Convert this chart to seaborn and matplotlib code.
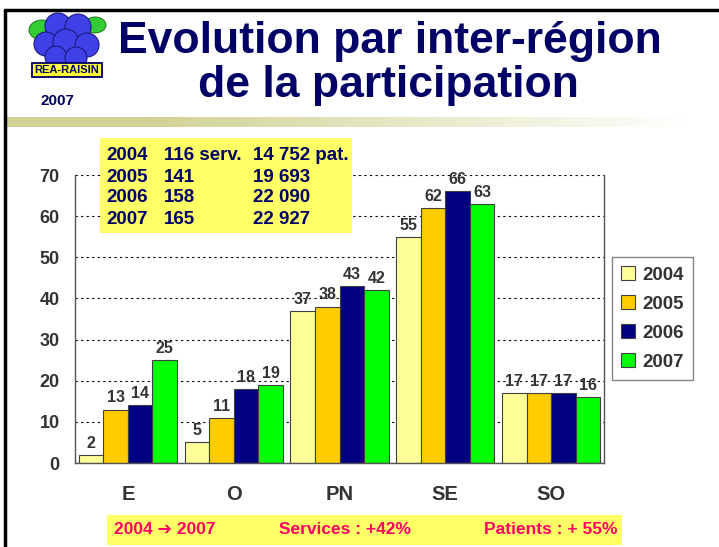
import numpy as np
import pandas as pd
import seaborn as sns
import matplotlib.pyplot as plt
from matplotlib.patches import Rectangle, Ellipse

# Données du graphique
regions = ['E', 'O', 'PN', 'SE', 'SO']
annees = ['2004', '2005', '2006', '2007']
v2004 = [2, 5, 37, 55, 17]
v2005 = [13, 11, 38, 62, 17]
v2006 = [14, 18, 43, 66, 17]
v2007 = [25, 19, 42, 63, 16]
couleurs = ['#ffff99', '#ffcc00', '#000080', '#00ff00']

# Encadré récapitulatif
recap_annees = ['2004', '2005', '2006', '2007']
recap_services = ['116 serv.', '141', '158', '165']
recap_patients = ['14 752 pat.', '19 693', '22 090', '22 927']

df = pd.DataFrame({
    'region': regions * 4,
    'annee': [a for a in annees for _ in regions],
    'valeur': v2004 + v2005 + v2006 + v2007,
})

sns.set_style('white')
plt.rcParams['font.family'] = ['Liberation Sans', 'DejaVu Sans']

W, H = 719, 547
fig = plt.figure(figsize=(W / 100, H / 100), dpi=100)


def fx(x):
    return x / W


def fy(y):
    return 1 - y / H


gris = '#333333'
navy = '#000066'

# Zone du graphique
ax = fig.add_axes([fx(75), fy(463), fx(604) - fx(75), fy(175) - fy(463)])
sns.barplot(data=df, x='region', y='valeur', hue='annee', palette=couleurs,
            width=0.93, saturation=1, edgecolor='#404040', linewidth=0.8,
            ax=ax)

for c in ax.containers:
    ax.bar_label(c, fmt='%d', padding=3, fontsize=11.5, fontweight='bold',
                 color=gris)

ax.set_ylim(0, 70)
ax.set_xlim(-0.5, 4.5)
ax.set_yticks(range(0, 71, 10))
ax.yaxis.grid(True, linestyle=(0, (2, 3)), color='black', linewidth=0.8)
ax.set_axisbelow(True)
ax.set_xlabel('')
ax.set_ylabel('')
ax.set_xticks(range(5))
ax.set_xticklabels(regions, fontsize=14.5, fontweight='bold', color=gris)
ax.set_xticks(np.arange(-0.5, 5, 1), minor=True)
ax.tick_params(axis='x', which='major', length=0, pad=16)
ax.tick_params(axis='x', which='minor', length=6, color='#555555', direction='out')
ax.tick_params(axis='y', length=7, color='#555555', direction='out', pad=4,
               labelsize=13, labelcolor=gris)
for lab in ax.get_yticklabels():
    lab.set_fontweight('bold')
for s in ['left', 'bottom', 'right']:
    ax.spines[s].set_color('#555555')
    ax.spines[s].set_linewidth(1.0)
ax.spines['top'].set_visible(False)

leg = ax.legend(loc='upper left', bbox_to_anchor=(fx(612), fy(257)),
                bbox_transform=fig.transFigure, frameon=True, fancybox=False,
                edgecolor='#666666', handlelength=0.75, handleheight=0.75,
                handletextpad=0.35, labelspacing=0.62, borderpad=0.5,
                borderaxespad=0, prop={'weight': 'bold', 'size': 13.5})
for t in leg.get_texts():
    t.set_color(gris)
leg.get_frame().set_linewidth(1.0)

# Cadre de la diapositive
fig.add_artist(plt.Line2D([fx(5), 1], [fy(10), fy(10)], color='black', lw=2.5,
                          transform=fig.transFigure))
fig.add_artist(plt.Line2D([fx(5), fx(5)], [fy(10), 0], color='black', lw=2.5,
                          transform=fig.transFigure))

# Bandeau dégradé sous le titre
grad = fig.add_axes([fx(7), fy(127), fx(690) - fx(7), fy(117) - fy(127)])
g = np.ones(300)
g[60:] = np.linspace(1, 0, 240)
base = np.array([0.82, 0.82, 0.58])
img = base[None, :] * g[:, None] + (1 - g[:, None])
grad.imshow(img[None, :, :], aspect='auto', extent=[0, 1, 0, 1])
grad.axis('off')

# Titre
fig.text(fx(390), fy(41), 'Evolution par inter-région', ha='center', va='center',
         fontsize=32, fontweight='bold', color=navy)
fig.text(fx(388), fy(86), 'de la participation', ha='center', va='center',
         fontsize=32, fontweight='bold', color=navy)

# Logo simplifié
feuille = dict(facecolor='#33cc33', edgecolor='#116611', lw=0.6,
               transform=fig.transFigure)
fig.add_artist(Ellipse((fx(42), fy(30)), 26 / W, 20 / H, **feuille))
fig.add_artist(Ellipse((fx(95), fy(25)), 22 / W, 16 / H, **feuille))
for (cx, cy, r) in [(58, 26, 13), (78, 27, 13), (46, 44, 12), (66, 42, 13),
                    (87, 45, 12), (56, 57, 11), (76, 58, 11)]:
    fig.add_artist(Ellipse((fx(cx), fy(cy)), 2 * r / W, 2 * r / H,
                           facecolor='#4040e8', edgecolor='#1a1a80', lw=0.8,
                           transform=fig.transFigure))
fig.text(fx(67), fy(70), 'REA-RAISIN', ha='center', va='center', fontsize=8,
         fontweight='bold', color=navy,
         bbox=dict(boxstyle='square,pad=0.2', facecolor='#ffff33',
                   edgecolor=navy, lw=1.3))
fig.text(fx(57), fy(101), '2007', ha='center', va='center', fontsize=11,
         fontweight='bold', color=navy)

# Encadré jaune des effectifs
fig.add_artist(Rectangle((fx(100), fy(233)), fx(352) - fx(100), fy(138) - fy(233),
                         facecolor='#ffff66', edgecolor='none',
                         transform=fig.transFigure, zorder=5))
for i in range(4):
    yy = fy(156 + i * 21)
    fig.text(fx(106), yy, recap_annees[i], va='center', fontsize=13.5,
             fontweight='bold', color=navy, zorder=6)
    fig.text(fx(164), yy, recap_services[i], va='center', fontsize=13.5,
             fontweight='bold', color=navy, zorder=6)
    fig.text(fx(253), yy, recap_patients[i], va='center', fontsize=13.5,
             fontweight='bold', color=navy, zorder=6)

# Bandeau bas
fig.add_artist(Rectangle((fx(107), fy(545)), fx(622) - fx(107), fy(515) - fy(545),
                         facecolor='#ffff66', edgecolor='none',
                         transform=fig.transFigure, zorder=5))
rose = '#ff0066'
fig.text(fx(114), fy(530), '2004 ➔ 2007', va='center', fontsize=12.5,
         fontweight='bold', color=rose, zorder=6)
fig.text(fx(279), fy(530), 'Services : +42%', va='center', fontsize=12.5,
         fontweight='bold', color=rose, zorder=6)
fig.text(fx(618), fy(530), 'Patients : + 55%', va='center', ha='right',
         fontsize=12.5, fontweight='bold', color=rose, zorder=6)

fig.savefig('out.png', dpi=100)
